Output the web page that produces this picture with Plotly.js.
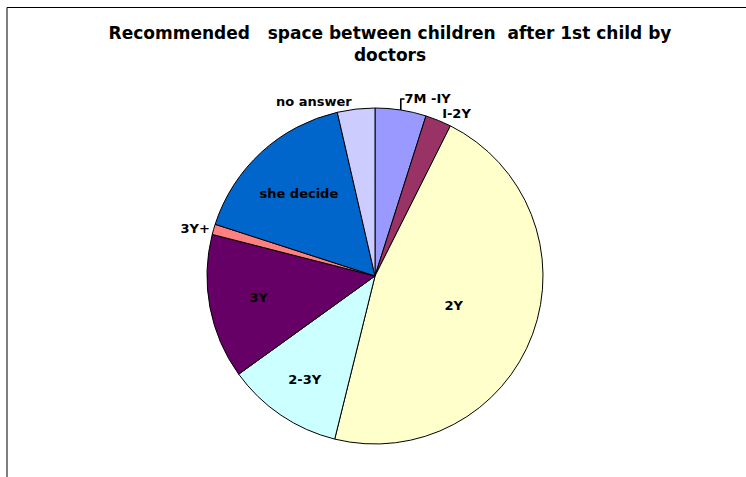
<!DOCTYPE html>
<html>
<head>
<meta charset="utf-8">
<script src="https://cdn.plot.ly/plotly-3.0.1.min.js"></script>
<style>html,body{margin:0;padding:0;background:#fff;}#chart{width:746px;height:477px;}</style>
</head>
<body>
<div id="chart"></div>
<script>
// Data (percent share, read clockwise from 12 o'clock)
const categories = ["7M -IY", "I-2Y", "2Y", "2-3Y", "3Y", "3Y+", "she decide", "no answer"];
const shares = [4.9, 2.5, 46.4, 11.2, 13.9, 1.0, 16.4, 3.6];
const sliceColors = ["#9999FF", "#993366", "#FFFFCC", "#CCFFFF", "#660066", "#FF8080", "#0066CC", "#CCCCFF"];
const labelPositions = ["outside", "outside", "inside", "inside", "inside", "outside", "inside", "outside"];
const chartTitle = "Recommended\u00a0\u00a0\u00a0space between children\u00a0\u00a0after 1st child by<br>doctors";

const W = 746, H = 477;
const cx = 375, cy = 276, r = 168;

const trace = {
  type: "pie",
  labels: categories,
  values: shares,
  sort: false,
  direction: "clockwise",
  rotation: 0,
  textinfo: "label",
  textposition: labelPositions,
  insidetextorientation: "horizontal",
  textfont: {family: "DejaVu Sans, sans-serif", size: 13, color: "#000000", weight: "bold"},
  marker: {colors: sliceColors, line: {color: "#000000", width: 1}},
  domain: {x: [(cx - r) / W, (cx + r) / W], y: [(H - cy - r) / H, (H - cy + r) / H]},
  automargin: false,
  hoverinfo: "label+percent",
  showlegend: false
};

const layout = {
  width: W, height: H,
  margin: {l: 0, r: 0, t: 0, b: 0},
  paper_bgcolor: "#ffffff",
  showlegend: false,
  title: {
    text: chartTitle,
    font: {family: "DejaVu Sans, sans-serif", size: 17, color: "#000000", weight: "bold"},
    x: 390 / W, xanchor: "center",
    y: 1 - 39 / H, yanchor: "top"
  },
  shapes: [
    {type: "line", xref: "paper", yref: "paper", x0: 7 / W, x1: 7 / W, y0: 0, y1: 1 - 7.5 / H, line: {color: "#000000", width: 1}},
    {type: "line", xref: "paper", yref: "paper", x0: 7 / W, x1: 1, y0: 1 - 7.5 / H, y1: 1 - 7.5 / H, line: {color: "#000000", width: 1}}
  ]
};

Plotly.newPlot("chart", [trace], layout, {displayModeBar: false, staticPlot: true});
</script>
</body>
</html>
